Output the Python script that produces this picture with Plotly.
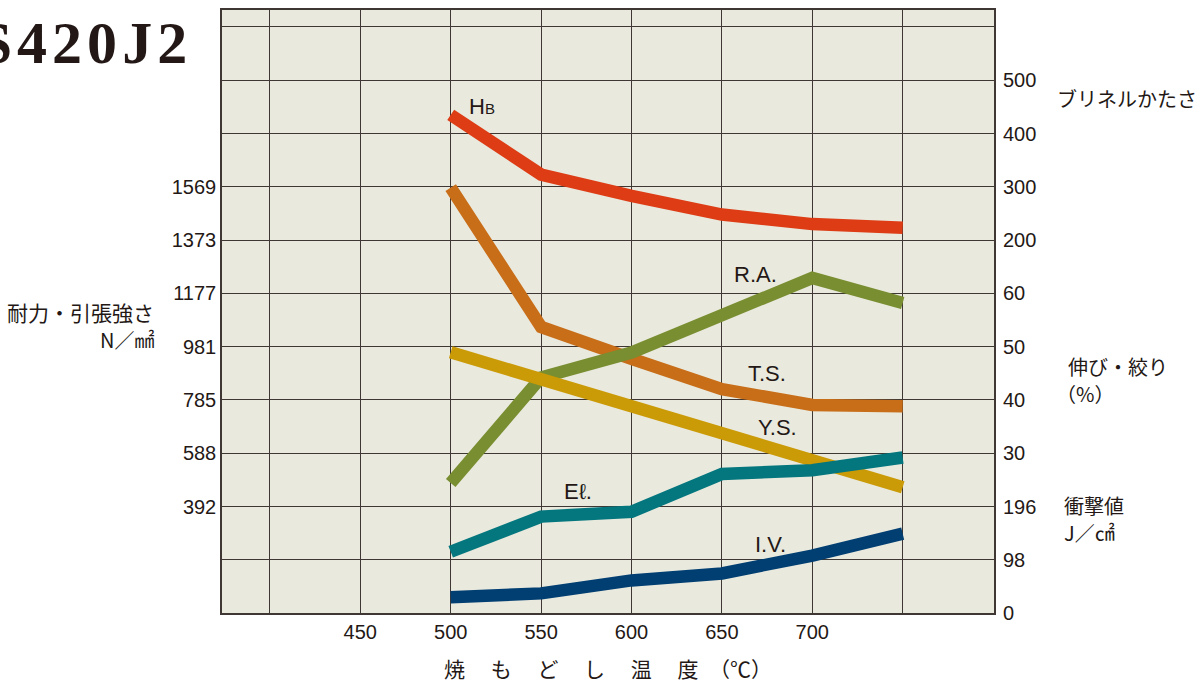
import plotly.graph_objects as go

# ---- data ----
temps = [500, 550, 600, 650, 700, 750]                 # tempering temperature (°C)
hb = [435, 323, 283, 248, 230, 223]                    # Brinell hardness
ts = [1566, 1053, 936, 824, 766, 761]                  # tensile strength N/mm2
ys = [960, 860, 761, 664, 555, 463]                    # yield strength N/mm2
ra = [24.4, 44.2, 48.9, 56.0, 62.9, 58.2]              # reduction of area %
el = [11.5, 18.1, 19.0, 26.1, 26.8, 29.2]              # elongation %
iv = [28.8, 36.1, 60.0, 72.8, 105.8, 146.0]            # impact value J/cm2

x_ticks = [450, 500, 550, 600, 650, 700]
strength_ticks = [392, 588, 785, 981, 1177, 1373, 1569]
impact_ticks = [0, 98, 196]
percent_ticks = [30, 40, 50, 60]
hb_ticks = [200, 300, 400, 500]

# ---- scales: one grid division for each axis ----
STR_STEP = 196.133
IMP_STEP = 98.0665
PCT_STEP = 10
HB_STEP = 100
TOP = 11.319  # top of plot in grid divisions

C_HB = "#dd3c15"
C_TS = "#c86d18"
C_RA = "#798e31"
C_YS = "#cb9a07"
C_EL = "#04767e"
C_IV = "#013e72"
LW = 12.5
GRID = "#3e3733"
NUMFONT = dict(family="Liberation Sans, Arial, sans-serif", size=20, color="#231815")
JPFONT = dict(family="Noto Sans CJK JP", size=20, color="#231815")

fig = go.Figure()
fig.add_trace(go.Scatter(x=temps, y=ts, mode="lines", line=dict(color=C_TS, width=LW), yaxis="y"))
fig.add_trace(go.Scatter(x=temps, y=ra, mode="lines", line=dict(color=C_RA, width=LW), yaxis="y2"))
fig.add_trace(go.Scatter(x=temps, y=ys, mode="lines", line=dict(color=C_YS, width=LW), yaxis="y3"))
fig.add_trace(go.Scatter(x=temps, y=el, mode="lines", line=dict(color=C_EL, width=LW), yaxis="y4"))
fig.add_trace(go.Scatter(x=temps, y=hb, mode="lines", line=dict(color=C_HB, width=LW), yaxis="y5"))
fig.add_trace(go.Scatter(x=temps, y=iv, mode="lines", line=dict(color=C_IV, width=LW), yaxis="y6"))

str_range = [0, TOP * STR_STEP]
pct_range = [0, TOP * PCT_STEP]
imp_range = [0, TOP * IMP_STEP]
hb_range = [200 - 7 * HB_STEP, 200 + (TOP - 7) * HB_STEP]

hidden = dict(overlaying="y", anchor="x", side="right", showgrid=False, zeroline=False,
              showline=False, showticklabels=False, ticks="")

fig.update_layout(
    width=1202, height=683,
    margin=dict(l=222, r=208, t=8, b=70),
    paper_bgcolor="white", plot_bgcolor="#e9e9dd",
    showlegend=False,
    xaxis=dict(range=[373.5, 800.5], tickvals=x_ticks, showgrid=True, gridcolor=GRID, gridwidth=1,
               minor=dict(tick0=400, dtick=50, showgrid=True, gridcolor=GRID, gridwidth=1),
               showline=True, linecolor=GRID, linewidth=1.5, mirror=True, zeroline=False,
               ticks="", tickfont=NUMFONT, ticklabelstandoff=0),
    yaxis=dict(range=str_range, tickvals=strength_ticks, showgrid=True, gridcolor=GRID, gridwidth=1,
               minor=dict(tick0=0, dtick=STR_STEP, showgrid=True, gridcolor=GRID, gridwidth=1),
               showline=True, linecolor=GRID, linewidth=1.5, mirror=True, zeroline=False,
               ticks="", tickfont=NUMFONT, ticklabelstandoff=0),
    yaxis2=dict(range=pct_range, **hidden),
    yaxis3=dict(range=str_range, **hidden),
    yaxis4=dict(range=pct_range, overlaying="y", anchor="x", side="right", showgrid=False,
                zeroline=False, showline=False, tickvals=percent_ticks, ticks="",
                tickfont=NUMFONT, ticklabelstandoff=8),
    yaxis5=dict(range=hb_range, overlaying="y", anchor="x", side="right", showgrid=False,
                zeroline=False, showline=False, tickvals=hb_ticks, ticks="",
                tickfont=NUMFONT, ticklabelstandoff=8),
    yaxis6=dict(range=imp_range, overlaying="y", anchor="x", side="right", showgrid=False,
                zeroline=False, showline=False, tickvals=impact_ticks, ticks="",
                tickfont=NUMFONT, ticklabelstandoff=8),
)

def px_x(px):
    return (px - 222) / 772.0

def px_y(py):
    return (613 - py) / 605.0

LBL = dict(family="Liberation Sans, Arial, sans-serif", size=22, color="#231815")
labels = [
    ("H<span style='font-size:15px'>B</span>", 467, 105),
    ("R.A.", 732, 273.5),
    ("T.S.", 746, 372.5),
    ("Y.S.", 756, 426.5),
    ("Eℓ.", 562, 491),
    ("I.V.", 753, 544),
]
for txt, lx, ly in labels:
    fig.add_annotation(text=txt, xref="paper", yref="paper", x=px_x(lx), y=px_y(ly),
                       xanchor="left", yanchor="middle", showarrow=False, font=LBL)

# axis titles
fig.add_annotation(text="耐力・引張強さ", xref="paper", yref="paper",
                   x=px_x(156), y=px_y(311), xanchor="right", yanchor="middle", align="right",
                   showarrow=False, font=dict(family="Noto Sans CJK JP", size=21, color="#231815"))
fig.add_annotation(text="N／㎟", xref="paper", yref="paper",
                   x=px_x(156), y=px_y(339), xanchor="right", yanchor="middle", align="right",
                   showarrow=False, font=JPFONT)
fig.add_annotation(text="ブリネルかたさ", xref="paper", yref="paper",
                   x=px_x(1055), y=px_y(97), xanchor="left", yanchor="middle", align="left",
                   showarrow=False, font=JPFONT)
fig.add_annotation(text="伸び・絞り", xref="paper", yref="paper",
                   x=px_x(1066), y=px_y(366), xanchor="left", yanchor="middle", align="left",
                   showarrow=False, font=JPFONT)
fig.add_annotation(text="（%）", xref="paper", yref="paper",
                   x=px_x(1054), y=px_y(393), xanchor="left", yanchor="middle", align="left",
                   showarrow=False, font=JPFONT)
fig.add_annotation(text="衝撃値", xref="paper", yref="paper",
                   x=px_x(1062), y=px_y(505), xanchor="left", yanchor="middle", align="left",
                   showarrow=False, font=JPFONT)
fig.add_annotation(text="J／㎠", xref="paper", yref="paper",
                   x=px_x(1062), y=px_y(532), xanchor="left", yanchor="middle", align="left",
                   showarrow=False, font=JPFONT)
fig.add_annotation(text="焼　 も　 ど　 し　 温　 度　（℃）", xref="paper", yref="paper",
                   x=px_x(442), y=px_y(668), xanchor="left", yanchor="middle",
                   showarrow=False, font=dict(family="Noto Sans CJK JP", size=21, color="#231815"))

# title (cut by the left edge as in the reference)
title_text = "S\u200aU\u200aS\u200a4\u200a2\u200a0\u200aJ\u200a2"
fig.add_annotation(text="<b>" + title_text + "</b>", xref="paper", yref="paper",
                   x=px_x(189), y=px_y(41), xanchor="right", yanchor="middle",
                   showarrow=False, font=dict(family="Liberation Serif", size=60, color="#231815"))

# page body has no margin so the figure sits at the window's top-left corner
fig.write_html("out.html", config={"displayModeBar": False},
               post_script="document.body.style.margin='0';")
